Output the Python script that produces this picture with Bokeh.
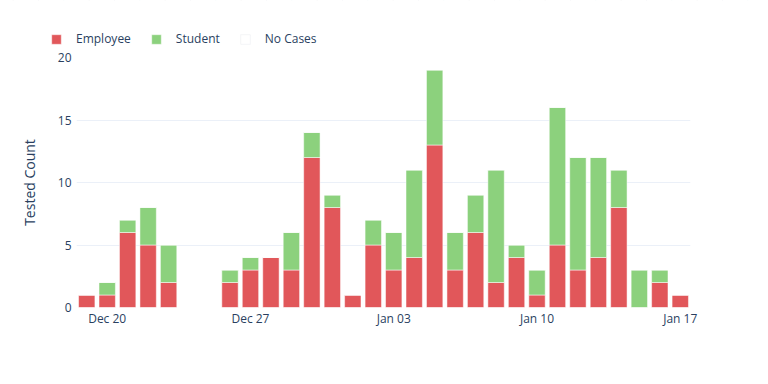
from datetime import datetime
from bokeh.plotting import figure
from bokeh.layouts import column
from bokeh.models import (ColumnDataSource, Range1d, FixedTicker, DatetimeTickFormatter,
                          Legend, LegendItem)
from bokeh.embed import file_html
from bokeh.resources import INLINE

dates = ["2021-12-19", "2021-12-20", "2021-12-21", "2021-12-22", "2021-12-23",
         "2021-12-24", "2021-12-25", "2021-12-26", "2021-12-27", "2021-12-28",
         "2021-12-29", "2021-12-30", "2021-12-31", "2022-01-01", "2022-01-02",
         "2022-01-03", "2022-01-04", "2022-01-05", "2022-01-06", "2022-01-07",
         "2022-01-08", "2022-01-09", "2022-01-10", "2022-01-11", "2022-01-12",
         "2022-01-13", "2022-01-14", "2022-01-15", "2022-01-16", "2022-01-17"]
employee = [1, 1, 6, 5, 2, 0, 0, 2, 3, 4, 3, 12, 8, 1, 5, 3, 4, 13, 3, 6,
            2, 4, 1, 5, 3, 4, 8, 0, 2, 1]
student = [0, 1, 1, 3, 3, 0, 0, 1, 1, 0, 3, 2, 1, 0, 2, 3, 7, 6, 3, 3,
           9, 1, 2, 11, 9, 8, 3, 3, 1, 0]
no_cases = [0, 0, 0, 0, 0, 0.05, 0.05, 0, 0, 0, 0, 0, 0, 0, 0, 0, 0, 0, 0, 0,
            0, 0, 0, 0, 0, 0, 0, 0, 0, 0]
tick_dates = ["2021-12-20", "2021-12-27", "2022-01-03", "2022-01-10", "2022-01-17"]
series_names = ["Employee", "Student", "No Cases"]
series_colors = ["#E1575A", "#8CD17D", "#FFFFFF"]
key_line_colors = ["#FFFFFF", "#FFFFFF", "#E8EAEE"]

DAY = 86400000.0
xs = [datetime.strptime(d, "%Y-%m-%d") for d in dates]
source = ColumnDataSource(dict(x=xs, Employee=employee, Student=student,
                               **{"No Cases": no_cases}))

def ms(d):
    return (datetime.strptime(d, "%Y-%m-%d") - datetime(1970, 1, 1)).total_seconds() * 1000.0

x_start = ms(dates[0]) - 0.5 * DAY
x_end = ms(dates[-1]) + 0.5 * DAY

TEXT = "#2a3f5f"
FONT = "Open Sans"
W = 760

# ---- main chart ----
p = figure(width=W, height=329, output_backend="svg", toolbar_location=None,
           x_axis_type="datetime",
           x_range=Range1d(x_start, x_end), y_range=Range1d(0, 20),
           min_border_left=76, min_border_right=W - 690, min_border_top=10,
           min_border_bottom=69)
p.outline_line_color = None

renderers = p.vbar_stack(series_names, x="x", width=0.8 * DAY, source=source,
                         fill_color=series_colors, line_color="white", line_width=0.5)

p.xgrid.grid_line_color = None
p.ygrid.grid_line_color = "#EBF0F8"
p.ygrid.grid_line_width = 1

p.yaxis.ticker = FixedTicker(ticks=[0, 5, 10, 15, 20])
p.xaxis.ticker = FixedTicker(ticks=[ms(d) for d in tick_dates])
p.xaxis.formatter = DatetimeTickFormatter(days="%b %d", months="%b %d", hours="%b %d")

for ax in (p.xaxis[0], p.yaxis[0]):
    ax.axis_line_color = None
    ax.major_tick_line_color = None
    ax.minor_tick_line_color = None
    ax.major_tick_out = 0
    ax.major_tick_in = 0
    ax.major_label_text_font = FONT
    ax.major_label_text_font_size = "12px"
    ax.major_label_text_color = TEXT

p.yaxis.major_label_standoff = 5
p.xaxis.major_label_standoff = 2
p.yaxis.axis_label = "Tested Count"
p.yaxis.axis_label_text_font = FONT
p.yaxis.axis_label_text_font_size = "14px"
p.yaxis.axis_label_text_font_style = "normal"
p.yaxis.axis_label_text_color = TEXT
p.yaxis.axis_label_standoff = 16

# ---- legend strip (top); its key renderers share the data, zero-width and out of range ----
lg = figure(width=W, height=47, output_backend="svg", toolbar_location=None,
            x_axis_location=None, y_axis_location=None,
            x_range=p.x_range, y_range=Range1d(-2, -1), min_border=0)
lg.outline_line_color = None
lg.xgrid.visible = False
lg.ygrid.visible = False
key_renderers = lg.vbar_stack(series_names, x="x", width=0, source=source,
                              fill_color=series_colors, line_color=key_line_colors,
                              line_width=0.5)

unaligned = "frame_align" in lg.properties()
if unaligned:
    lg.frame_align = False
    p.frame_align = False
legend_x = 50 if unaligned else -26

legend = Legend(items=[LegendItem(label=n, renderers=[r]) for n, r in zip(series_names, key_renderers)],
                orientation="horizontal", location=(legend_x, 0),
                glyph_width=12, glyph_height=12, label_height=12, label_standoff=14,
                spacing=19, padding=0, margin=0,
                border_line_color=None, background_fill_alpha=0,
                label_text_font=FONT, label_text_font_size="12px", label_text_color=TEXT)
lg.add_layout(legend)

open("out.html", "w").write(file_html(column(lg, p, spacing=0), INLINE))
